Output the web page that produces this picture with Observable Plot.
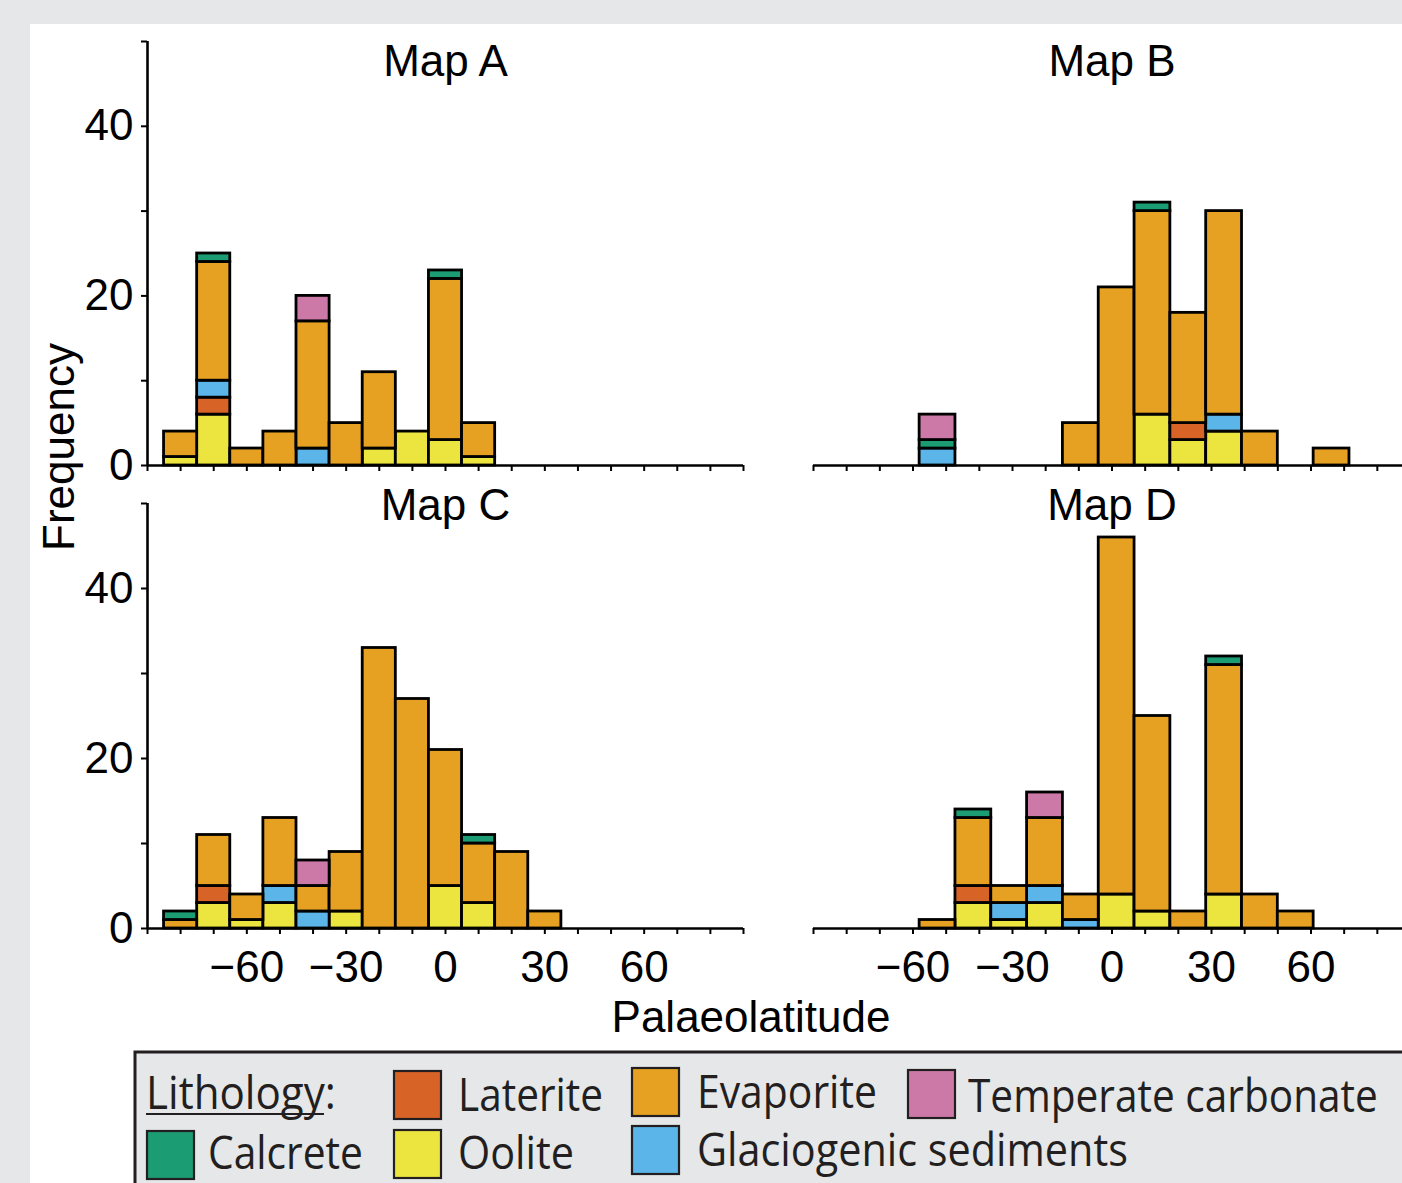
<!DOCTYPE html>
<html>
<head>
<meta charset="utf-8">
<script src="https://cdn.jsdelivr.net/npm/d3@7"></script>
<script src="https://cdn.jsdelivr.net/npm/@observablehq/plot@0.6"></script>
<style>
  html, body { margin: 0; padding: 0; background: #e6e7e8; }
  #page { position: relative; width: 1402px; height: 1183px; overflow: hidden; background: #e6e7e8; }
  #white { position: absolute; left: 30px; top: 24px; width: 1372px; height: 1159px; background: #ffffff; }
  .panel { position: absolute; }
  #overlay { position: absolute; left: 0; top: 0; }
</style>
</head>
<body>
<div id="page"><div id="white"></div></div>
<script>
// ---------------- DATA ----------------
const lithologies = ["Oolite", "Laterite", "Glaciogenic sediments", "Evaporite", "Calcrete", "Temperate carbonate"];
const lithologyColours = ["#ece43f", "#d86327", "#5bb5e8", "#e6a022", "#1c9c72", "#cc79a7"];

// Bin edges (palaeolatitude, degrees)
const binEdgesAC = [-85, -75, -65, -55, -45, -35, -25, -15, -5, 5, 15, 25, 35];
const binEdgesBD = [-58, -47.2, -36.4, -25.6, -14.8, -4, 6.8, 17.6, 28.4, 39.2, 50, 60.8, 71.6];

// Counts per bin, one row per lithology (same order as `lithologies`)
const mapA = [
  [1, 6, 0, 0, 0, 0, 2, 4, 3, 1, 0, 0],     // Oolite
  [0, 2, 0, 0, 0, 0, 0, 0, 0, 0, 0, 0],     // Laterite
  [0, 2, 0, 0, 2, 0, 0, 0, 0, 0, 0, 0],     // Glaciogenic sediments
  [3, 14, 2, 4, 15, 5, 9, 0, 19, 4, 0, 0],  // Evaporite
  [0, 1, 0, 0, 0, 0, 0, 0, 1, 0, 0, 0],     // Calcrete
  [0, 0, 0, 0, 3, 0, 0, 0, 0, 0, 0, 0]      // Temperate carbonate
];
const mapB = [
  [0, 0, 0, 0, 0, 0, 6, 3, 4, 0, 0, 0],
  [0, 0, 0, 0, 0, 0, 0, 2, 0, 0, 0, 0],
  [2, 0, 0, 0, 0, 0, 0, 0, 2, 0, 0, 0],
  [0, 0, 0, 0, 5, 21, 24, 13, 24, 4, 0, 2],
  [1, 0, 0, 0, 0, 0, 1, 0, 0, 0, 0, 0],
  [3, 0, 0, 0, 0, 0, 0, 0, 0, 0, 0, 0]
];
const mapC = [
  [0, 3, 1, 3, 0, 2, 0, 0, 5, 3, 0, 0],
  [0, 2, 0, 0, 0, 0, 0, 0, 0, 0, 0, 0],
  [0, 0, 0, 2, 2, 0, 0, 0, 0, 0, 0, 0],
  [1, 6, 3, 8, 3, 7, 33, 27, 16, 7, 9, 2],
  [1, 0, 0, 0, 0, 0, 0, 0, 0, 1, 0, 0],
  [0, 0, 0, 0, 3, 0, 0, 0, 0, 0, 0, 0]
];
const mapD = [
  [0, 3, 1, 3, 0, 4, 2, 0, 4, 0, 0, 0],
  [0, 2, 0, 0, 0, 0, 0, 0, 0, 0, 0, 0],
  [0, 0, 2, 2, 1, 0, 0, 0, 0, 0, 0, 0],
  [1, 8, 2, 8, 3, 42, 23, 2, 27, 4, 2, 0],
  [0, 1, 0, 0, 0, 0, 0, 0, 1, 0, 0, 0],
  [0, 0, 0, 3, 0, 0, 0, 0, 0, 0, 0, 0]
];

const mapTitles = ["Map A", "Map B", "Map C", "Map D"];
const xMinorTicks = [-90, -80, -70, -60, -50, -40, -30, -20, -10, 0, 10, 20, 30, 40, 50, 60, 70, 80, 90];
const xTickValues = [-60, -30, 0, 30, 60];
const xTickLabels = ["\u221260", "\u221230", "0", "30", "60"];
const yMinorTicks = [0, 10, 20, 30, 40, 50];
const yTickValues = [0, 20, 40];
const yTickLabels = ["0", "20", "40"];
const xAxisTitle = "Palaeolatitude";
const yAxisTitle = "Frequency";
const legendTitle = "Lithology";

// ---------------- BUILD ----------------
const FONT = "'Liberation Sans', Arial, Helvetica, sans-serif";
const INK = "#000";
const xLabelOf = new Map(xTickValues.map((v, i) => [v, xTickLabels[i]]));
const yLabelOf = new Map(yTickValues.map((v, i) => [v, yTickLabels[i]]));

function rowsFor(edges, counts) {
  const rows = [];
  counts.forEach((series, k) => series.forEach((c, i) => {
    if (c > 0) rows.push({x1: edges[i], x2: edges[i + 1], lith: lithologies[k], count: c});
  }));
  return rows;
}

function panel(cfg) {
  const marks = [
    Plot.rectY(rowsFor(cfg.edges, cfg.counts), {
      x1: "x1", x2: "x2", y: "count", fill: "lith", order: lithologies,
      stroke: INK, strokeWidth: 2.8
    }),
    Plot.ruleY([0], {stroke: INK, strokeWidth: 2.6}),
    Plot.axisX(xMinorTicks, {tickSize: 6, fill: "none", stroke: INK, strokeWidth: 2, label: null}),
    Plot.text([cfg.title], {frameAnchor: "top", dy: cfg.titleDy, lineAnchor: "bottom", fontSize: 44, fill: INK})
  ];
  if (cfg.bottom) {
    marks.push(Plot.axisX(xTickValues, {tickSize: 0, tickPadding: 22, fontSize: 44, fill: INK,
      tickFormat: d => xLabelOf.get(d), label: null}));
  }
  if (cfg.left) {
    marks.push(
      Plot.ruleX([-90], {stroke: INK, strokeWidth: 2.6}),
      Plot.axisY(yMinorTicks, {tickSize: 6, fill: "none", stroke: INK, strokeWidth: 2, label: null}),
      Plot.axisY(yTickValues, {tickSize: 0, tickPadding: 14, fontSize: 44, fill: INK,
        tickFormat: d => yLabelOf.get(d), label: null})
    );
  }
  const chart = Plot.plot({
    width: cfg.w, height: cfg.h,
    marginTop: cfg.mt, marginBottom: cfg.mb, marginLeft: cfg.ml, marginRight: cfg.mr,
    x: {domain: [-90, 90], label: null},
    y: {domain: [0, 50], label: null, axis: cfg.left ? undefined : null},
    color: {domain: lithologies, range: lithologyColours},
    style: {background: "transparent", maxWidth: "none", fontFamily: FONT, color: INK, overflow: "visible"},
    marks
  });
  const div = document.createElement("div");
  div.className = "panel";
  div.style.left = cfg.x + "px";
  div.style.top = cfg.y + "px";
  div.style.width = cfg.w + "px";
  div.appendChild(chart);
  document.getElementById("page").appendChild(div);
}

// top row: frame y 41..465 ; bottom row: frame y 503..928
// left column: frame x 147..743 ; right column: frame x 813..1410
const topRow = {y: 0, h: 500, mt: 41, mb: 35, titleDy: 34};
const botRow = {y: 480, h: 540, mt: 23, mb: 92, titleDy: 16};
const leftCol = {x: 0, w: 770, ml: 147, mr: 27};
const rightCol = {x: 780, w: 640, ml: 33, mr: 10};

panel({...topRow, ...leftCol, title: mapTitles[0], edges: binEdgesAC, counts: mapA, left: true, bottom: false});
panel({...topRow, ...rightCol, title: mapTitles[1], edges: binEdgesBD, counts: mapB, left: false, bottom: false});
panel({...botRow, ...leftCol, title: mapTitles[2], edges: binEdgesAC, counts: mapC, left: true, bottom: true});
panel({...botRow, ...rightCol, title: mapTitles[3], edges: binEdgesBD, counts: mapD, left: false, bottom: true});

// ---------------- LABELS + LEGEND ----------------
const colourOf = new Map(lithologies.map((l, i) => [l, lithologyColours[i]]));
const svg = d3.select("#page").append("svg")
  .attr("id", "overlay").attr("width", 1402).attr("height", 1183)
  .style("pointer-events", "none");

svg.append("text")
  .attr("transform", "translate(74,447) rotate(-90)")
  .attr("text-anchor", "middle").attr("font-family", FONT).attr("font-size", 44).attr("fill", INK)
  .text(yAxisTitle);
svg.append("text")
  .attr("x", 751).attr("y", 1032)
  .attr("text-anchor", "middle").attr("font-family", FONT).attr("font-size", 44).attr("fill", INK)
  .text(xAxisTitle);

const LFONT = "'Open Sans', 'Noto Sans', sans-serif";
const LINK = "#231f20";
svg.append("rect").attr("x", 135).attr("y", 1052).attr("width", 1400).attr("height", 300)
  .attr("fill", "#e6e7e8").attr("stroke", LINK).attr("stroke-width", 3);

// condensed text: scale horizontally so the glyphs fill the target width
function squeezedText(str, x, y, width) {
  const t = svg.append("text").attr("x", 0).attr("y", 0)
    .attr("font-family", LFONT).attr("font-size", 46).attr("fill", LINK).text(str);
  const natural = t.node().getComputedTextLength();
  const k = natural > 0 ? width / natural : 1;
  t.attr("transform", `translate(${x},${y}) scale(${k},1)`);
  return t;
}

squeezedText(legendTitle + ":", 146, 1109, 190);
svg.append("line").attr("x1", 146).attr("x2", 324).attr("y1", 1114).attr("y2", 1114)
  .attr("stroke", LINK).attr("stroke-width", 2.2);

const legendLayout = [
  {lith: "Laterite", sx: 394, sy: 1071, tx: 458, ty: 1111, tw: 145},
  {lith: "Evaporite", sx: 632, sy: 1068, tx: 697, ty: 1108, tw: 180},
  {lith: "Temperate carbonate", sx: 908, sy: 1070, tx: 968, ty: 1112, tw: 410},
  {lith: "Calcrete", sx: 147, sy: 1131, tx: 208, ty: 1169, tw: 155},
  {lith: "Oolite", sx: 394, sy: 1130, tx: 458, ty: 1169, tw: 116},
  {lith: "Glaciogenic sediments", sx: 632, sy: 1126, tx: 697, ty: 1166, tw: 431}
];
for (const item of legendLayout) {
  svg.append("rect").attr("x", item.sx).attr("y", item.sy).attr("width", 47).attr("height", 48)
    .attr("fill", colourOf.get(item.lith)).attr("stroke", LINK).attr("stroke-width", 2.2);
  squeezedText(item.lith, item.tx, item.ty, item.tw);
}
</script>
</body>
</html>
